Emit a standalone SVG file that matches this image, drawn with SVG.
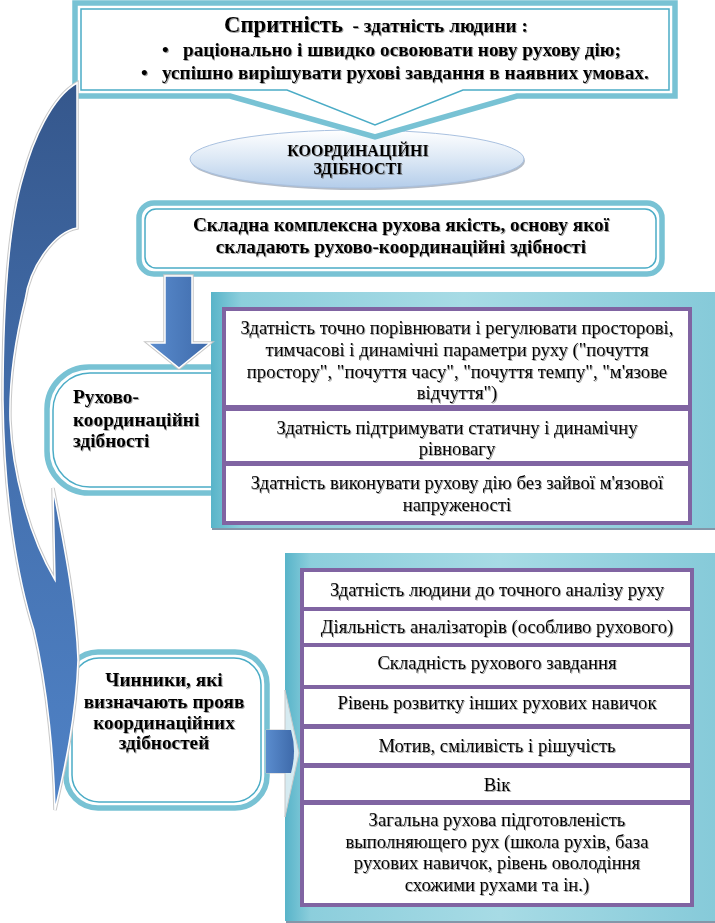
<svg xmlns="http://www.w3.org/2000/svg" width="715" height="923" viewBox="0 0 715 923">
<defs>
<style>
text{font-family:"Liberation Serif","Times New Roman",serif;fill:#000}
.b{font-weight:bold;font-size:19.3px}
.r{font-size:18.67px}
.c{text-anchor:middle}
.outer{fill:#fff;stroke:#78C2D4;stroke-width:5.5}
.inner{fill:none;stroke:#4BACC6;stroke-width:1.5}
.panel{fill:url(#tealG)}
.pshadow{fill:#1F3F63;opacity:0.55}
.purple{fill:#8064A2}
.row{fill:#fff}
.txt{filter:url(#ts)}
</style>
<linearGradient id="tealG" x1="0" y1="0" x2="1" y2="0">
<stop offset="0" stop-color="#58B4C9"/>
<stop offset="0.06" stop-color="#8CCEDC"/>
<stop offset="0.5" stop-color="#A7DBE5"/>
<stop offset="1" stop-color="#86CAD9"/>
</linearGradient>
<linearGradient id="ellG" x1="0" y1="0" x2="0" y2="1">
<stop offset="0" stop-color="#FFFFFF"/>
<stop offset="0.5" stop-color="#DCE8F5"/>
<stop offset="1" stop-color="#B4CDEA"/>
</linearGradient>
<linearGradient id="swG" x1="0" y1="0" x2="0" y2="1">
<stop offset="0" stop-color="#35578C"/>
<stop offset="0.5" stop-color="#4470AE"/>
<stop offset="1" stop-color="#4F82C6"/>
</linearGradient>
<linearGradient id="arG" x1="0" y1="0" x2="1" y2="0">
<stop offset="0" stop-color="#5A8CCE"/>
<stop offset="1" stop-color="#3E6AAA"/>
</linearGradient>
<filter id="ts" x="-5%" y="-20%" width="110%" height="140%">
<feDropShadow dx="1" dy="1" stdDeviation="0.5" flood-color="#666" flood-opacity="0.6"/>
</filter>
</defs>
<rect x="0" y="0" width="715" height="923" fill="#fff"/>

<g id="node-ellipse">
<ellipse cx="358" cy="161" rx="167" ry="29" fill="#6A7A90" opacity="0.5"/>
<ellipse cx="357" cy="159" rx="167" ry="29" fill="url(#ellG)" stroke="#A9C1E0" stroke-width="1"/>
<g class="txt">
<text class="c" x="358" y="155.5" font-size="16" font-weight="bold">КООРДИНАЦІЙНІ</text>
<text class="c" x="358" y="173.5" font-size="16" font-weight="bold">ЗДІБНОСТІ</text>
</g>
</g>

<g id="node-top">
<path class="outer" d="M75,3 H675 V96 H517 L375,137 L230,96 H75 Z"/>
<path class="inner" d="M81,9 H669 V90 H463 L375,125 L287,90 H81 Z"/>
<g class="txt">
<text class="b c" x="376" y="32" xml:space="preserve"><tspan font-size="22.7">Спритність</tspan><tspan>  - здатність людини :</tspan></text>
<text class="b" x="162" y="56">•</text>
<text class="b" x="183" y="56">раціонально і швидко освоювати нову рухову дію;</text>
<text class="b" x="141" y="79">•</text>
<text class="b" x="162" y="79">успішно вирішувати рухові завдання в наявних умовах.</text>
</g>
</g>

<g id="node-complex">
<rect class="outer" x="139" y="203" width="523" height="71" rx="15"/>
<rect class="inner" x="145" y="209" width="511" height="59" rx="11"/>
<g class="txt">
<text class="b c" x="401" y="231">Складна комплексна рухова якість, основу якої</text>
<text class="b c" x="401" y="253">складають рухово-координаційні здібності</text>
</g>
</g>

<g id="node-ruhovo">
<rect class="outer" x="47" y="367" width="220" height="126" rx="42"/>
<rect class="inner" x="53" y="373" width="208" height="114" rx="37"/>
<g class="txt">
<text class="b" x="73" y="403">Рухово-</text>
<text class="b" x="73" y="426">координаційні</text>
<text class="b" x="73" y="447">здібності</text>
</g>
</g>

<g id="node-panel1">
<rect class="pshadow" x="212" y="294" width="504" height="236"/>
<rect class="panel" x="211" y="292" width="504" height="236"/>
<rect class="purple" x="222" y="307" width="470" height="218"/>
<rect class="row" x="226" y="311" width="462" height="94"/>
<rect class="row" x="226" y="411" width="462" height="50"/>
<rect class="row" x="226" y="466" width="462" height="55"/>
<g class="txt">
<text class="r c" x="457" y="334">Здатність точно порівнювати і регулювати просторові,</text>
<text class="r c" x="457" y="356">тимчасові і динамічні параметри руху ("почуття</text>
<text class="r c" x="457" y="378">простору", "почуття часу", "почуття темпу", "м'язове</text>
<text class="r c" x="457" y="399">відчуття")</text>
<text class="r c" x="457" y="434">Здатність підтримувати статичну і динамічну</text>
<text class="r c" x="457" y="455">рівновагу</text>
<text class="r c" x="457" y="489">Здатність виконувати рухову дію без зайвої м'язової</text>
<text class="r c" x="457" y="511">напруженості</text>
</g>
</g>

<g id="node-chynnyky">
<rect class="outer" x="66" y="652" width="201" height="156" rx="32"/>
<rect class="inner" x="72" y="658" width="189" height="144" rx="27"/>
<g class="txt">
<text class="b c" x="164" y="686">Чинники, які</text>
<text class="b c" x="164" y="708">визначають прояв</text>
<text class="b c" x="164" y="729">координаційних</text>
<text class="b c" x="164" y="749">здібностей</text>
</g>
</g>

<g id="node-panel2">
<rect class="pshadow" x="286" y="555" width="430" height="368"/>
<rect class="panel" x="285" y="553" width="430" height="368"/>
<rect class="purple" x="300" y="568" width="394" height="339"/>
<rect class="row" x="304" y="572" width="386" height="35"/>
<rect class="row" x="304" y="611" width="386" height="32"/>
<rect class="row" x="304" y="647" width="386" height="38"/>
<rect class="row" x="304" y="689" width="386" height="35"/>
<rect class="row" x="304" y="729" width="386" height="34"/>
<rect class="row" x="304" y="768" width="386" height="32"/>
<rect class="row" x="304" y="805" width="386" height="98"/>
<g class="txt">
<text class="r c" x="497" y="596">Здатність людини до точного аналізу руху</text>
<text class="r c" x="497" y="633">Діяльність аналізаторів (особливо рухового)</text>
<text class="r c" x="497" y="669">Складність рухового завдання</text>
<text class="r c" x="497" y="709">Рівень розвитку інших рухових навичок</text>
<text class="r c" x="497" y="752">Мотив, сміливість і рішучість</text>
<text class="r c" x="497" y="791">Вік</text>
<text class="r c" x="497" y="826">Загальна рухова підготовленість</text>
<text class="r c" x="497" y="848">выполняющего рух (школа рухів, база</text>
<text class="r c" x="497" y="869">рухових навичок, рівень оволодіння</text>
<text class="r c" x="497" y="891">схожими рухами та ін.)</text>
</g>
</g>

<g id="connectors">
<path d="M165,276 H192 V343 H210 L179,368 L148,343 H165 Z" fill="url(#arG)" stroke="#C8C8C8" stroke-width="3.5"/>
<path d="M165,276 H192 V343 H210 L179,368 L148,343 H165 Z" fill="url(#arG)" stroke="#fff" stroke-width="1.5"/>
<path d="M266,730 H285 V690 L299,753 L285,817 V773 H266 Z" fill="#F4F8FA" fill-opacity="0.8" stroke="#C8C8C8" stroke-width="1"/>
<path d="M266,730 H291 Q297,751 291,773 H266 Z" fill="url(#arG)"/>
<path d="M77,83 L77,228 C55,232 30,265 25,300 C15,340 9,380 10,420 C12,470 28,535 55,580 L53,488 C64,545 76,605 78,660 C76,720 63,775 55,810 C54,760 48,690 34,630 C18,580 4,500 3,400 C3,300 10,220 23,177 C33,140 52,97 77,83 Z" fill="url(#swG)" stroke="#C8C8C8" stroke-width="3.5"/>
<path d="M77,83 L77,228 C55,232 30,265 25,300 C15,340 9,380 10,420 C12,470 28,535 55,580 L53,488 C64,545 76,605 78,660 C76,720 63,775 55,810 C54,760 48,690 34,630 C18,580 4,500 3,400 C3,300 10,220 23,177 C33,140 52,97 77,83 Z" fill="url(#swG)" stroke="#fff" stroke-width="1.5"/>
</g>
</svg>
